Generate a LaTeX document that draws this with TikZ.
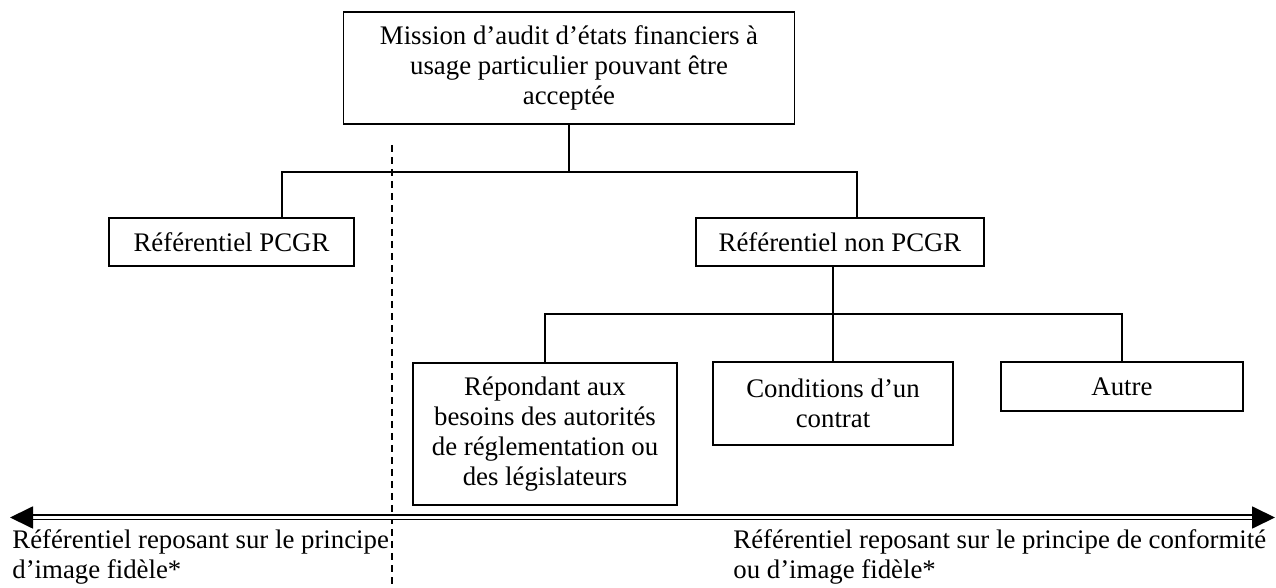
\documentclass[tikz,border=0pt]{standalone}
\usepackage{fontspec}
\setmainfont{Liberation Serif}
\usepackage{tikz}
\usetikzlibrary{positioning,arrows.meta,calc}

\begin{document}
\begin{tikzpicture}[x=0.5pt,y=-0.5pt,font=\fontsize{13.4pt}{15pt}\selectfont,
  box/.style={draw,line width=0.9pt,inner sep=0pt,align=center},
  link/.style={line width=0.9pt},
  sep/.style={line width=0.6pt,dash pattern=on 3.5pt off 2.5pt},
  axe/.style={double,line width=0.9pt,double distance=1.2pt,{Triangle[length=11.5pt,width=11pt]}-{Triangle[length=11.5pt,width=11pt]}},
  lbl/.style={inner sep=0pt,align=left,anchor=base west}]
  \useasboundingbox (0,0) rectangle (1276,588);
  % boxes
  \node[box,minimum width=225.5pt,minimum height=56pt] (mis) at (569,68)
    {Mission d’audit d’états financiers à\\usage particulier pouvant être\\acceptée};
  \node[box,minimum width=122.5pt,minimum height=24pt] (pcgr) at (231.5,242) {Référentiel PCGR};
  \node[box,minimum width=144pt,minimum height=24pt] (npcgr) at (840,242) {Référentiel non PCGR};
  \node[box,minimum width=132pt,minimum height=71pt] (reg) at (545,434)
    {Répondant aux\\besoins des autorités\\de réglementation ou\\des législateurs};
  \node[box,minimum width=120pt,minimum height=41.5pt] (ctr) at (833,403.5) {Conditions d’un\\contrat};
  \node[box,minimum width=121pt,minimum height=24.5pt] (aut) at (1122,386.5) {Autre};
  % junctions
  \coordinate (j1) at (569,172);
  \coordinate (jl) at (282,172);
  \coordinate (jr) at (857,172);
  \coordinate (j2) at (833,314);
  \coordinate (kl) at (545,314);
  \coordinate (kr) at (1122,314);
  \draw[link] (mis.south) -- (j1);
  \draw[link] (jl |- pcgr.north) -- (jl) -- (jr) -- (jr |- npcgr.north);
  \draw[link] (j2 |- npcgr.south) -- (j2) -- (ctr.north);
  \draw[link] (reg.north) -- (kl) -- (kr) -- (aut.north);
  % separator
  \coordinate (st) at (392,145);
  \coordinate (sb) at (392,588);
  \draw[sep] (st) -- (sb);
  % axis
  \coordinate (la) at (10,517.5);
  \coordinate (ra) at (1275,517.5);
  \draw[axe] (la) -- (ra);
  \node[lbl] (tl) at (12,578) {Référentiel reposant sur le principe\\d’image fidèle*};
  \node[lbl] (tr) at (733,578) {Référentiel reposant sur le principe de conformité\\ou d’image fidèle*};
\end{tikzpicture}
\end{document}
